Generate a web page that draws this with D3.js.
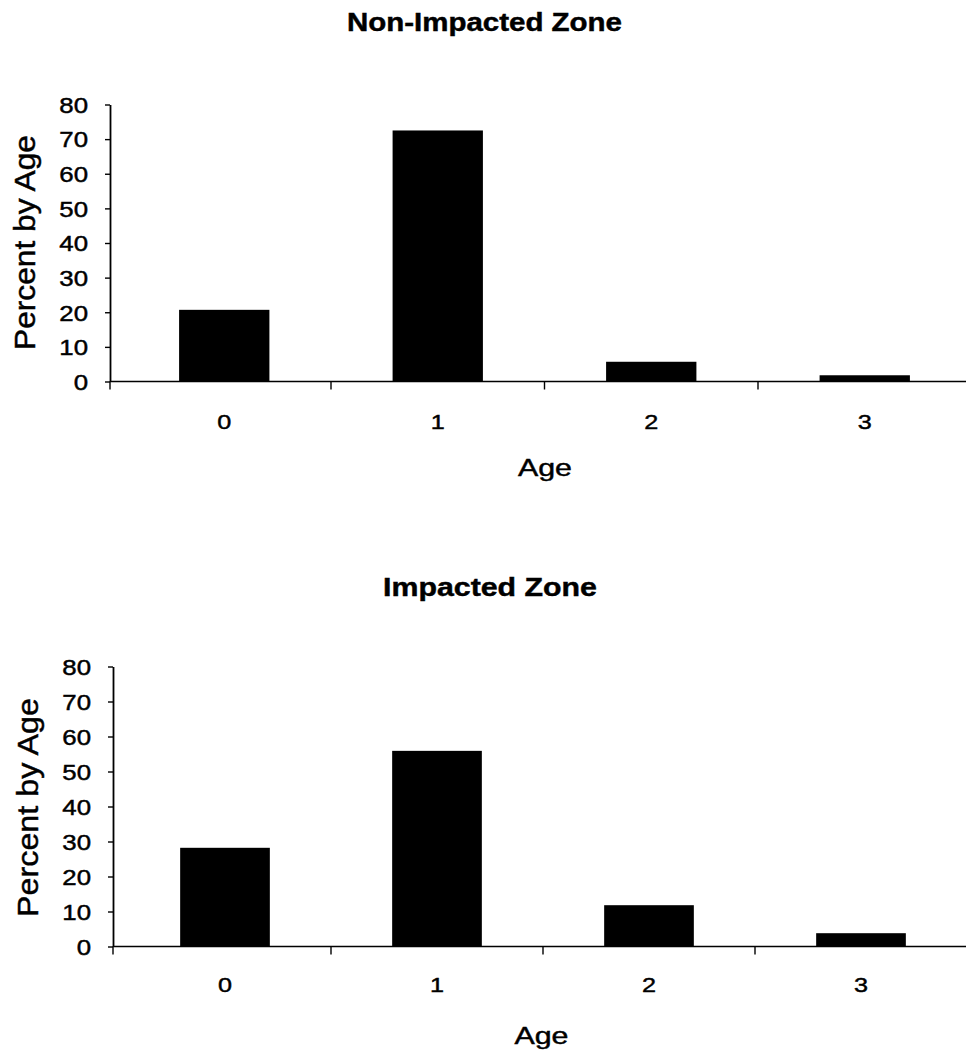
<!DOCTYPE html>
<html>
<head>
<meta charset="utf-8">
<script src="https://cdn.jsdelivr.net/npm/d3@7"></script>
<style>
  html, body { margin: 0; padding: 0; background: #fff; }
  svg { display: block; font-family: "Liberation Sans", Arial, sans-serif; }
  svg text { stroke: #000; stroke-width: 0.45px; fill: #000; }
</style>
</head>
<body>
<svg id="chart" width="966" height="1056"></svg>
<script>
// ---- data ----
const ages = ["0", "1", "2", "3"];
const nonImpactedPct = [20.7, 72.5, 5.7, 1.8];
const impactedPct = [28.2, 55.9, 11.8, 3.8];
const yTickValues = [0, 10, 20, 30, 40, 50, 60, 70, 80];
const titles = ["Non-Impacted Zone", "Impacted Zone"];
const xAxisTitle = "Age";
const yAxisTitle = "Percent by Age";

// ---- layout ----
const panels = [
  { values: nonImpactedPct, title: titles[0], axisX: 110, y0: 381.5, y80: 104.5, xr: [117.5, 971.5],
    titleX: 484.5, titleY: 31, titleSize: 25, titleLen: 275,
    yLabX: 35, yLabY: 242.5, yLabLen: 215, xLabX: 545, xLabY: 476, tickLabY: 429 },
  { values: impactedPct, title: titles[1], axisX: 113, y0: 946.5, y80: 666.5, xr: [119, 967],
    titleX: 490, titleY: 596, titleSize: 26, titleLen: 214,
    yLabX: 38, yLabY: 807.5, yLabLen: 219, xLabX: 541.5, xLabY: 1044, tickLabY: 992 }
];
const STRETCH = 1.2;

const svg = d3.select("#chart");

function stretchText(sel, factor) {
  sel.each(function () {
    const len = this.getComputedTextLength();
    d3.select(this).attr("textLength", len * factor).attr("lengthAdjust", "spacingAndGlyphs");
  });
}

panels.forEach(p => {
  const g = svg.append("g");
  const x = d3.scaleBand().domain(ages).range(p.xr).paddingInner(0.577).paddingOuter(0.577 / 2);
  const y = d3.scaleLinear().domain([0, 80]).range([p.y0, p.y80]);
  const gap = (x.step() - x.bandwidth()) / 2;

  // bars
  g.selectAll("rect.bar").data(ages).join("rect")
    .attr("class", "bar")
    .attr("x", (d) => x(d))
    .attr("width", x.bandwidth())
    .attr("y", (d, i) => y(p.values[i]))
    .attr("height", (d, i) => y(0) - y(p.values[i]))
    .attr("fill", "#000");

  // baseline (category axis line)
  g.append("line")
    .attr("x1", p.axisX).attr("x2", 966)
    .attr("y1", y(0)).attr("y2", y(0))
    .attr("stroke", "#000").attr("stroke-width", 1.6);

  // category boundary ticks
  const bounds = [p.axisX].concat(ages.slice(1).map(a => x(a) - gap));
  g.selectAll("line.btick").data(bounds).join("line")
    .attr("class", "btick")
    .attr("x1", d => d).attr("x2", d => d)
    .attr("y1", y(0)).attr("y2", y(0) + 8)
    .attr("stroke", "#000").attr("stroke-width", 1.4);

  // x tick labels (through a bottom axis with no tick lines)
  const xAxis = g.append("g")
    .attr("transform", `translate(0,${p.tickLabY})`)
    .call(d3.axisBottom(x).tickSize(0).tickPadding(0));
  xAxis.select(".domain").remove();
  xAxis.selectAll("text")
    .attr("y", 0).attr("dy", null)
    .attr("font-size", 21).attr("font-family", "Liberation Sans, Arial, sans-serif")
    .call(stretchText, STRETCH);

  // y axis
  const yAxis = g.append("g")
    .attr("transform", `translate(${p.axisX},0)`)
    .call(d3.axisLeft(y).tickValues(yTickValues).tickSize(5).tickSizeOuter(0).tickPadding(17));
  yAxis.select(".domain").attr("stroke", "#000").attr("stroke-width", 1.8);
  yAxis.selectAll(".tick line").attr("stroke", "#000").attr("stroke-width", 1.4);
  yAxis.selectAll("text")
    .attr("dy", "0.36em")
    .attr("font-size", 21.5).attr("font-family", "Liberation Sans, Arial, sans-serif")
    .call(stretchText, STRETCH);

  // title
  g.append("text")
    .attr("x", p.titleX).attr("y", p.titleY)
    .attr("text-anchor", "middle")
    .attr("font-size", p.titleSize).attr("font-weight", "bold")
    .attr("textLength", p.titleLen).attr("lengthAdjust", "spacingAndGlyphs")
    .text(p.title);

  // x axis title
  g.append("text")
    .attr("x", p.xLabX).attr("y", p.xLabY)
    .attr("text-anchor", "middle")
    .attr("font-size", 24)
    .attr("textLength", 54).attr("lengthAdjust", "spacingAndGlyphs")
    .text(xAxisTitle);

  // y axis title
  g.append("text")
    .attr("transform", `translate(${p.yLabX},${p.yLabY}) rotate(-90)`)
    .attr("text-anchor", "middle")
    .attr("font-size", 30)
    .attr("textLength", p.yLabLen).attr("lengthAdjust", "spacingAndGlyphs")
    .text(yAxisTitle);
});
</script>
</body>
</html>
